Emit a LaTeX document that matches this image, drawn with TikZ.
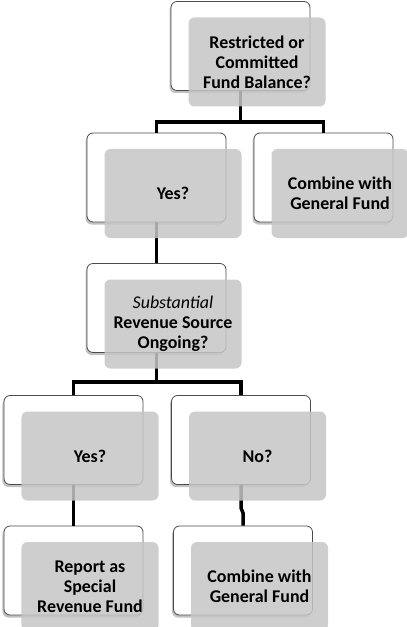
\documentclass[tikz,border=0pt]{standalone}
\usepackage{fontspec}
\setmainfont{Carlito}
\usetikzlibrary{shadows}
\definecolor{boxgrey}{RGB}{198,198,198}
\definecolor{edgegrey}{RGB}{75,75,75}
\begin{document}
\begin{tikzpicture}[x=1bp,y=-1bp,
  whitebox/.style={draw=edgegrey, line width=0.8bp, fill=white, rounded corners=6bp,
    minimum width=139bp, minimum height=89bp, inner sep=0pt,
    drop shadow={shadow xshift=-1.5bp, shadow yshift=-2.5bp, opacity=0.35, fill=black!70}},
  greybox/.style={fill=boxgrey, fill opacity=0.85, text opacity=1, rounded corners=6bp,
    minimum width=137bp, minimum height=89bp, inner sep=0pt, align=center,
    font=\fontsize{18}{20}\selectfont\bfseries},
  conn/.style={line width=3.5bp, draw=black, line join=miter}]
\useasboundingbox (0,0) rectangle (406,627);
% white back boxes
\node[whitebox] (T)  at (240.5,46) {};
\node[whitebox] (Y1) at (156.5,177.5) {};
\node[whitebox] (C1) at (323.5,177.5) {};
\node[whitebox] (S)  at (156.5,308) {};
\node[whitebox] (Y2) at (73.5,440) {};
\node[whitebox] (N2) at (241,440) {};
\node[whitebox] (R)  at (73.5,570.5) {};
\node[whitebox] (C2) at (243,570.5) {};
% connectors
\coordinate (b1) at (240.5,122);
\coordinate (b2) at (156.5,382);
\coordinate (j1) at (241,508);
\coordinate (j2) at (243,513);
\draw[conn] (T.south) -- (b1);
\draw[conn] (Y1.north) |- (b1) -| (C1.north);
\draw[conn] (Y1.south) -- (S.north);
\draw[conn] (S.south) -- (b2);
\draw[conn] (Y2.north) |- (b2) -| (N2.north);
\draw[conn] (Y2.south) -- (R.north);
\draw[conn] (N2.south) -- (j1) -- (j2) -- (C2.north);
% grey front boxes
\node[greybox] (gT)  at ([shift={(16.5,16)}]T.center) {Restricted or\\Committed\\Fund Balance?};
\node[greybox] (gY1) at ([shift={(16.5,16)}]Y1.center) {Yes?};
\node[greybox] (gC1) at ([shift={(16.5,16)}]C1.center) {Combine with\\General Fund};
\node[greybox] (gS)  at ([shift={(16.5,16)}]S.center) {{\mdseries\itshape Substantial}\\Revenue Source\\Ongoing?};
\node[greybox] (gY2) at ([shift={(16.5,16)}]Y2.center) {Yes?};
\node[greybox] (gN2) at ([shift={(16.5,16)}]N2.center) {No?};
\node[greybox] (gR)  at ([shift={(16.5,16)}]R.center) {Report as\\Special\\Revenue Fund};
\node[greybox] (gC2) at ([shift={(16.5,16)}]C2.center) {Combine with\\General Fund};
\end{tikzpicture}
\end{document}
